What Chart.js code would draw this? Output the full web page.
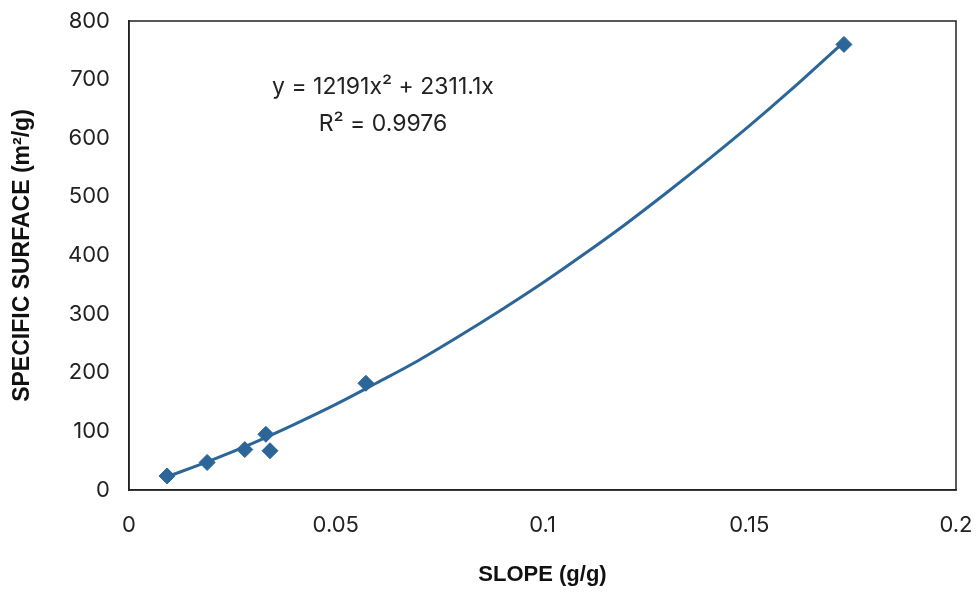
<!DOCTYPE html>
<html>
<head>
<meta charset="utf-8">
<script src="https://cdn.jsdelivr.net/npm/chart.js@4/dist/chart.umd.min.js"></script>
<style>
  html, body { margin: 0; padding: 0; background: #fff; }
  #wrap { width: 976px; height: 596px; }
</style>
</head>
<body>
<div id="wrap"><canvas id="chart" width="976" height="596"></canvas></div>
<script>
// measured points
const slope = [0.0092, 0.0189, 0.0280, 0.0331, 0.0341, 0.0573, 0.1729];
const surface = [24, 47, 69, 95, 67, 182, 760];

// trendline
const trendX = [0.009, 0.02, 0.03, 0.04, 0.05, 0.06, 0.07, 0.08, 0.09, 0.1, 0.11, 0.12, 0.13, 0.14, 0.15, 0.16, 0.173];
const trendY = [22, 51, 80, 112, 146, 183, 221, 263, 307, 353, 402, 453, 507, 563, 621, 682, 765];

const xTicks = [0, 0.05, 0.1, 0.15, 0.2];
const xTickLabels = ['0', '0.05', '0.1', '0.15', '0.2'];
const yTicks = [0, 100, 200, 300, 400, 500, 600, 700, 800];

const blue = '#2c6699';
const labelFont = 'Inter, "Noto Sans", sans-serif';
const titleFont = '"Liberation Sans", Arial, sans-serif';

// box round the plot + fit equation text
const extras = {
    id: 'extras',
    afterDraw(chart) {
        const { ctx, chartArea: a, scales } = chart;
        ctx.save();
        ctx.strokeStyle = '#222';
        ctx.lineWidth = 1.5;
        ctx.strokeRect(a.left, a.top, a.right - a.left, a.bottom - a.top);
        ctx.fillStyle = '#222';
        ctx.font = '23px ' + labelFont;
        ctx.textAlign = 'center';
        ctx.textBaseline = 'middle';
        const cx = scales.x.getPixelForValue(0.0614);
        ctx.fillText('y = 12191x² + 2311.1x', cx, scales.y.getPixelForValue(688));
        ctx.fillText('R² = 0.9976', cx, scales.y.getPixelForValue(625));
        ctx.restore();
    }
};

new Chart(document.getElementById('chart').getContext('2d'), {
    type: 'scatter',
    data: {
        datasets: [{
            label: 'Trend',
            type: 'line',
            data: trendX.map((x, i) => ({ x: x, y: trendY[i] })),
            borderColor: blue,
            borderWidth: 3,
            pointRadius: 0,
            cubicInterpolationMode: 'monotone',
            fill: false,
            order: 2
        }, {
            label: 'Data',
            data: slope.map((x, i) => ({ x: x, y: surface[i] })),
            backgroundColor: blue,
            borderColor: blue,
            pointStyle: 'rectRot',
            pointRadius: 8,
            pointHoverRadius: 8,
            order: 1
        }]
    },
    options: {
        responsive: false,
        animation: false,
        layout: { padding: { top: 21, right: 20, left: 0, bottom: 0 } },
        plugins: { legend: { display: false }, tooltip: { enabled: false } },
        scales: {
            x: {
                type: 'linear',
                min: 0,
                max: 0.2,
                afterBuildTicks: (s) => { s.ticks = xTicks.map(v => ({ value: v })); },
                afterFit: (s) => { s.height = 106; s.paddingLeft = 0; s.paddingRight = 0; },
                grid: { display: false, drawTicks: true, tickLength: 6, tickColor: '#222', tickWidth: 1.5 },
                border: { display: true, color: '#222', width: 1.5 },
                ticks: {
                    color: '#222',
                    font: { family: labelFont, size: 22 },
                    padding: 16,
                    maxRotation: 0,
                    callback: (v, i) => xTickLabels[i]
                },
                title: {
                    display: true,
                    text: 'SLOPE (g/g)',
                    color: '#111',
                    font: { family: titleFont, size: 22, weight: 'bold' },
                    padding: { top: 0, bottom: 8 }
                }
            },
            y: {
                min: 0,
                max: 800,
                afterBuildTicks: (s) => { s.ticks = yTicks.map(v => ({ value: v })); },
                afterFit: (s) => { s.width = 129; s.paddingTop = 0; s.paddingBottom = 0; },
                grid: { display: false, drawTicks: true, tickLength: 8, tickColor: '#222', tickWidth: 1.5 },
                border: { display: true, color: '#222', width: 1.5 },
                ticks: { color: '#222', font: { family: labelFont, size: 22 }, padding: 11 },
                title: {
                    display: true,
                    text: 'SPECIFIC SURFACE (m²/g)',
                    color: '#111',
                    font: { family: titleFont, size: 23, weight: 'bold' },
                    padding: { top: 9, bottom: 0 }
                }
            }
        }
    },
    plugins: [extras]
});
</script>
</body>
</html>
